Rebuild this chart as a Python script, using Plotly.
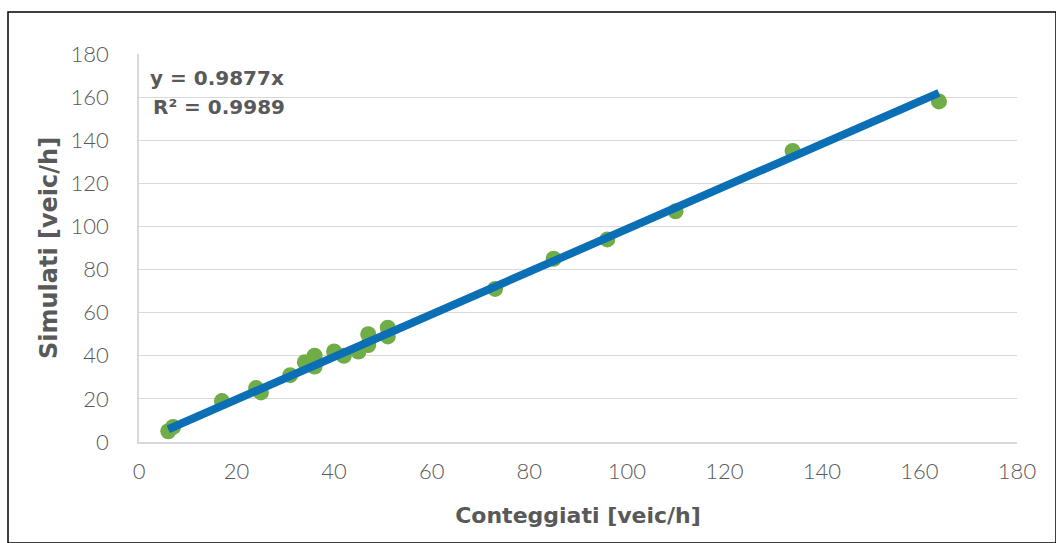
import plotly.graph_objects as go

conteggiati = [6, 7, 17, 24, 25, 31, 34, 36, 36, 40, 42, 45, 47, 47, 51, 51, 73, 85, 96, 110, 134, 164]
simulati = [5, 7, 19, 25, 23, 31, 37, 40, 35, 42, 40, 42, 50, 45, 53, 49, 71, 85, 94, 107, 135, 158]
slope = 0.9877
r2 = 0.9989
tick_vals = [0, 20, 40, 60, 80, 100, 120, 140, 160, 180]

trend_x = [min(conteggiati), max(conteggiati)]
trend_y = [slope * v for v in trend_x]

tick_font = "Lato, 'Open Sans', sans-serif"
title_font = "'DejaVu Sans', Verdana, sans-serif"
gray = "#595959"

fig = go.Figure()
fig.add_trace(go.Scatter(x=conteggiati, y=simulati, mode="markers",
                         marker=dict(color="#70AD47", size=16, line=dict(width=0)),
                         showlegend=False, hoverinfo="skip"))
fig.add_trace(go.Scatter(x=trend_x, y=trend_y, mode="lines",
                         line=dict(color="#0B6FB5", width=8),
                         showlegend=False, hoverinfo="skip"))

fig.update_layout(
    width=1056, height=543,
    margin=dict(l=139, r=39, t=54, b=101),
    paper_bgcolor="white", plot_bgcolor="white",
    font=dict(family=tick_font, color=gray),
    xaxis=dict(range=[0, 180], tickvals=tick_vals, showgrid=False,
               showline=True, linecolor="#D9D9D9", linewidth=1.5,
               zeroline=False, ticks="", ticklabelstandoff=9,
               tickfont=dict(size=22, color=gray, family=tick_font, weight=300),
               title=dict(text="<b>Conteggiati [veic/h]</b>",
                          font=dict(size=22, color=gray, family=title_font), standoff=24)),
    yaxis=dict(range=[0, 180], tickvals=tick_vals, showgrid=True,
               gridcolor="#D9D9D9", gridwidth=1,
               showline=True, linecolor="#D9D9D9", linewidth=1.5,
               zeroline=False, ticks="", ticklabelstandoff=24,
               tickfont=dict(size=22, color=gray, family=tick_font, weight=300),
               title=dict(text="<b>Simulati [veic/h]</b>",
                          font=dict(size=24, color=gray, family=title_font), standoff=6)),
    annotations=[
        dict(xref="paper", yref="paper", x=0.010, y=0.938, xanchor="left", yanchor="middle",
             text=f"<b>y = {slope}x</b>", showarrow=False,
             font=dict(size=20, color=gray, family=title_font)),
        dict(xref="paper", yref="paper", x=0.014, y=0.863, xanchor="left", yanchor="middle",
             text=f"<b>R² = {r2}</b>", showarrow=False,
             font=dict(size=20, color=gray, family=title_font)),
    ],
    shapes=[
        dict(type="rect", xref="paper", yref="paper",
             x0=-131/878, x1=(1056-139)/878, y0=-101/388, y1=(54 - 12)/388 + 1,
             line=dict(color="black", width=1.5), fillcolor="rgba(0,0,0,0)", layer="above"),
    ],
)

fig.write_html("out.html")
